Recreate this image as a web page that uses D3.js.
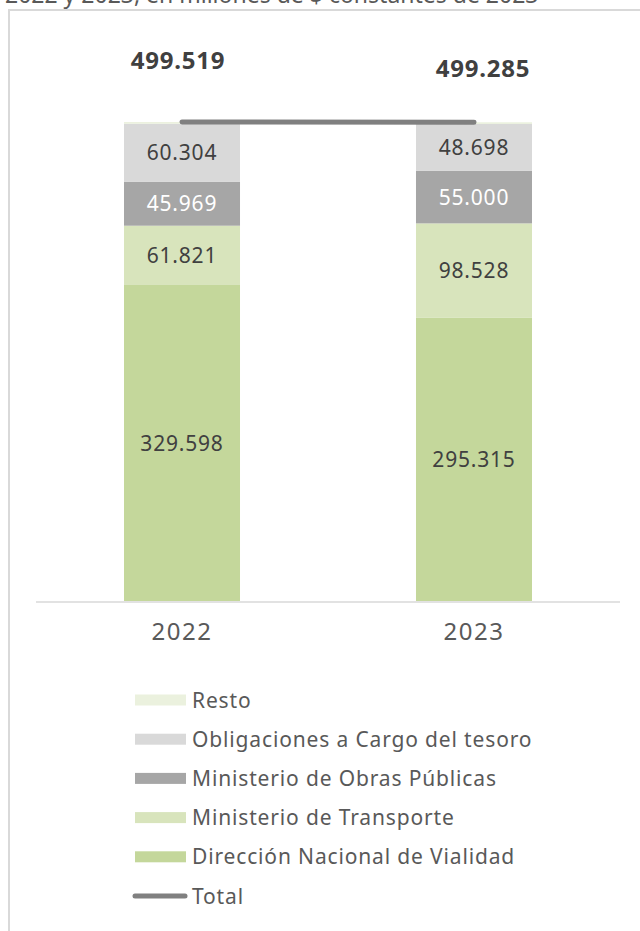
<!DOCTYPE html>
<html>
<head>
<meta charset="utf-8">
<script src="https://cdn.jsdelivr.net/npm/d3@7"></script>
<style>
  html, body { margin: 0; padding: 0; background: #fff; }
  svg { display: block; font-family: "Noto Sans", "Open Sans", sans-serif; }
</style>
</head>
<body>
<svg id="vis"></svg>
<script>
// datos (millones de $ constantes de 2023)
const categorias = ["2022", "2023"];
const series = ["Dirección Nacional de Vialidad", "Ministerio de Transporte",
                "Ministerio de Obras Públicas", "Obligaciones a Cargo del tesoro", "Resto"];
const vialidad     = [329598, 295315];
const transporte   = [61821, 98528];
const obras        = [45969, 55000];
const obligaciones = [60304, 48698];
const resto        = [1827, 1744];
const total        = [499519, 499285];

const colores = ["#c4d79b", "#d8e4bc", "#a6a6a6", "#d9d9d9", "#ebf1de"];
const color_label = ["#404040", "#404040", "#ffffff", "#404040", "none"];

const w = 640, h = 931;
const baseline = 601;

const $svg = d3.select("#vis").attr("width", w).attr("height", h);

// tabla para el stack
const tabla = categorias.map((c, i) => ({
  cat: c,
  [series[0]]: vialidad[i],
  [series[1]]: transporte[i],
  [series[2]]: obras[i],
  [series[3]]: obligaciones[i],
  [series[4]]: resto[i],
  total: total[i]
}));

const fmt = d3.formatLocale({decimal: ",", thousands: ".", grouping: [3], currency: ["$", ""]}).format(",d");

// escalas
const x = d3.scaleBand()
  .domain(categorias)
  .range([36, 620])
  .paddingInner(0.6027)
  .paddingOuter(0.3014);

const y = d3.scaleLinear()
  .domain([0, 520000])
  .range([baseline, baseline - 520 * 0.9588]);

// titulo (recortado arriba, como en el original)
$svg.append("text")
  .attr("x", 5).attr("y", 3)
  .attr("font-size", 23)
  .attr("fill", "#595959")
  .text("2022 y 2023, en millones de $ constantes de 2023");

// marco
$svg.append("path")
  .attr("d", `M9,${h} V10 H${w}`)
  .attr("fill", "none")
  .attr("stroke", "#d9d9d9")
  .attr("stroke-width", 2);

// barras apiladas
const stack = d3.stack().keys(series)(tabla);

const capas = $svg.selectAll("g.capa")
  .data(stack)
  .enter().append("g")
  .attr("class", "capa");

capas.selectAll("rect")
  .data(d => d)
  .enter().append("rect")
  .attr("x", d => x(d.data.cat))
  .attr("y", d => y(d[1]))
  .attr("width", x.bandwidth())
  .attr("height", d => y(d[0]) - y(d[1]))
  .attr("fill", function() { return colores[d3.select(this.parentNode).datum().index]; });

capas.selectAll("text")
  .data(d => d.map(v => ({v: v, s: d.index})))
  .enter().append("text")
  .filter(d => color_label[d.s] !== "none")
  .attr("x", d => x(d.v.data.cat) + x.bandwidth() / 2)
  .attr("y", d => (y(d.v[0]) + y(d.v[1])) / 2)
  .attr("dy", "0.36em")
  .attr("text-anchor", "middle")
  .attr("font-size", 21)
  .attr("letter-spacing", 0.8)
  .attr("fill", d => color_label[d.s])
  .text(d => fmt(d.v[1] - d.v[0]));

// eje x
$svg.append("line")
  .attr("x1", 36).attr("x2", 620)
  .attr("y1", baseline + 1).attr("y2", baseline + 1)
  .attr("stroke", "#d9d9d9")
  .attr("stroke-width", 1.5);

$svg.selectAll("text.anio")
  .data(categorias)
  .enter().append("text")
  .attr("class", "anio")
  .attr("x", d => x(d) + x.bandwidth() / 2)
  .attr("y", baseline + 39)
  .attr("text-anchor", "middle")
  .attr("font-size", 24)
  .attr("letter-spacing", 1.5)
  .attr("fill", "#595959")
  .text(d => d);

// linea total
const linea = d3.line()
  .x(d => x(d.cat) + x.bandwidth() / 2)
  .y(d => y(d.total));

$svg.append("path")
  .datum(tabla)
  .attr("d", linea)
  .attr("fill", "none")
  .attr("stroke", "#808080")
  .attr("stroke-width", 5)
  .attr("stroke-linecap", "round");

// etiquetas del total (movidas a mano en el original)
const desplaz_total = [{dx: -4, dy: -53}, {dx: 9, dy: -45}];

$svg.selectAll("text.total")
  .data(tabla)
  .enter().append("text")
  .attr("class", "total")
  .attr("x", (d, i) => x(d.cat) + x.bandwidth() / 2 + desplaz_total[i].dx)
  .attr("y", (d, i) => y(d.total) + desplaz_total[i].dy)
  .attr("text-anchor", "middle")
  .attr("font-size", 24)
  .attr("font-weight", "bold")
  .attr("letter-spacing", 0.8)
  .attr("fill", "#404040")
  .text(d => fmt(d.total));

// leyenda
const leyenda = series.slice().reverse().concat(["Total"]);
const ly = d3.scalePoint().domain(leyenda).range([700, 896]);

const items = $svg.selectAll("g.leyenda")
  .data(leyenda)
  .enter().append("g")
  .attr("class", "leyenda")
  .attr("transform", d => `translate(0,${ly(d)})`);

items.filter(d => d !== "Total").append("rect")
  .attr("x", 135).attr("y", -5.5)
  .attr("width", 51).attr("height", 11)
  .attr("fill", d => colores[series.indexOf(d)]);

items.filter(d => d === "Total").append("line")
  .attr("x1", 135).attr("x2", 185)
  .attr("stroke", "#808080")
  .attr("stroke-width", 5)
  .attr("stroke-linecap", "round");

items.append("text")
  .attr("x", 192)
  .attr("dy", "0.36em")
  .attr("font-size", 21)
  .attr("letter-spacing", 0.85)
  .attr("fill", "#595959")
  .text(d => d);
</script>
</body>
</html>
